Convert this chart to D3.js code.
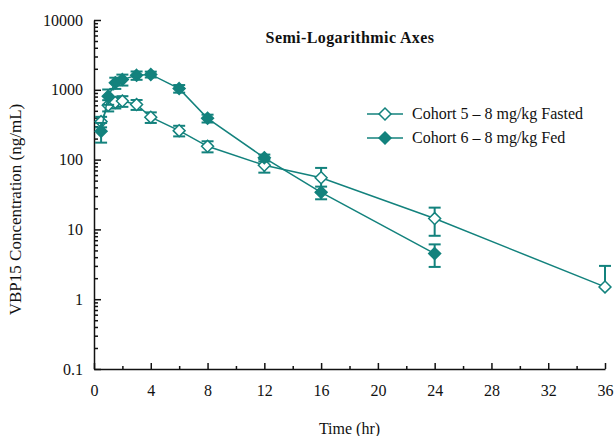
<!DOCTYPE html>
<html>
<head>
<meta charset="utf-8">
<script src="https://cdn.jsdelivr.net/npm/d3@7"></script>
<style>
  html, body { margin: 0; padding: 0; background: #fff; }
  svg { display: block; }
  text { font-family: "Liberation Serif", "Times New Roman", serif; fill: #111; }
</style>
</head>
<body>
<svg id="chart" width="615" height="436"></svg>
<script>
// Sampling times (hr)
const fastedTimes = [0.5, 1, 1.5, 2, 3, 4, 6, 8, 12, 16, 24, 36];
const fedTimes    = [0.5, 1, 1.5, 2, 3, 4, 6, 8, 12, 16, 24];

// Mean concentrations (ng/mL) and standard deviations
const fastedMean = [350, 600, 660, 690, 615, 405, 260, 155, 83, 55, 14.3, 1.5];
const fastedSD   = [60, 110, 120, 120, 100, 70, 45, 28, 18, 21, 6.2, 1.5];
const fedMean    = [255, 810, 1260, 1400, 1610, 1660, 1040, 390, 106, 34, 4.5];
const fedSD      = [80, 200, 230, 250, 220, 160, 130, 50, 12, 7, 1.6];

// Axis ticks
const xTicks = [0, 4, 8, 12, 16, 20, 24, 28, 32, 36];
const xMinorTicks = [2, 6, 10, 14, 18, 22, 26, 30, 34];
const yTicks = [0.1, 1, 10, 100, 1000, 10000];
const yTickLabels = ["0.1", "1", "10", "100", "1000", "10000"];

const seriesNames = ["Cohort 5 \u2013 8 mg/kg Fasted", "Cohort 6 \u2013 8 mg/kg Fed"];
const teal = "#13827d";

const svg = d3.select("#chart");

const x = d3.scaleLinear().domain([0, 36]).range([94, 605]);
const y = d3.scaleLog().domain([0.1, 10000]).range([369, 20]);

// minor log ticks: 2..9 within each decade
const yMinor = [];
for (let d = 0; d < yTicks.length - 1; d++) {
  for (let m = 2; m <= 9; m++) yMinor.push(yTicks[d] * m);
}

// Y axis (ticks point into the plot)
svg.append("g")
  .attr("transform", `translate(${x(0)},0)`)
  .call(d3.axisLeft(y).tickValues(yMinor).tickSize(-4).tickSizeOuter(0).tickFormat(""))
  .call(g => g.select(".domain").remove())
  .call(g => g.selectAll("line").attr("stroke", "#111").attr("stroke-width", 1.5));

svg.append("g")
  .attr("transform", `translate(${x(0)},0)`)
  .call(d3.axisLeft(y).tickValues(yTicks).tickSize(-7).tickSizeOuter(0).tickPadding(11)
    .tickFormat((d, i) => yTickLabels[i]))
  .call(g => g.select(".domain").attr("stroke", "#111").attr("stroke-width", 1.5))
  .call(g => g.selectAll("line").attr("stroke", "#111").attr("stroke-width", 1.5))
  .call(g => g.selectAll("text").attr("font-size", 16).attr("font-family", "Liberation Serif").attr("fill", "#111"));

// X axis
svg.append("g")
  .attr("transform", `translate(0,${y(0.1)})`)
  .call(d3.axisBottom(x).tickValues(xMinorTicks).tickSize(-3).tickSizeOuter(0).tickFormat(""))
  .call(g => g.select(".domain").remove())
  .call(g => g.selectAll("line").attr("stroke", "#111").attr("stroke-width", 1.5));

svg.append("g")
  .attr("transform", `translate(0,${y(0.1)})`)
  .call(d3.axisBottom(x).tickValues(xTicks).tickSize(-6).tickSizeOuter(0).tickPadding(16))
  .call(g => g.select(".domain").attr("stroke", "#111").attr("stroke-width", 1.5))
  .call(g => g.selectAll("line").attr("stroke", "#111").attr("stroke-width", 1.5))
  .call(g => g.selectAll("text").attr("font-size", 16).attr("font-family", "Liberation Serif").attr("fill", "#111"));

// Axis titles and chart title
svg.append("text")
  .attr("x", (x(0) + x(36)) / 2).attr("y", 434)
  .attr("text-anchor", "middle").attr("font-size", 16)
  .text("Time (hr)");

svg.append("text")
  .attr("transform", `translate(21,${(y(0.1) + y(10000)) / 2 + 15}) rotate(-90)`)
  .attr("text-anchor", "middle").attr("font-size", 17)
  .text("VBP15 Concentration (ng/mL)");

svg.append("text")
  .attr("x", 350).attr("y", 43)
  .attr("text-anchor", "middle").attr("font-size", 16).attr("font-weight", "bold")
  .attr("letter-spacing", 0.4)
  .text("Semi-Logarithmic Axes");

const diamond = d3.symbol().type(d3.symbolDiamond2).size(90);

function drawSeries(times, means, sds, filled) {
  const pts = times.map((t, i) => ({ t, m: means[i], s: sds[i] }));
  const g = svg.append("g");

  g.append("path")
    .datum(pts)
    .attr("fill", "none")
    .attr("stroke", teal)
    .attr("stroke-width", 1.5)
    .attr("d", d3.line().x(d => x(d.t)).y(d => y(d.m)));

  const eb = g.selectAll(".eb").data(pts).join("g");
  const cap = 6;
  eb.append("line")
    .attr("x1", d => x(d.t)).attr("x2", d => x(d.t))
    .attr("y1", d => y(d.m + d.s))
    .attr("y2", d => d.m - d.s > 0 ? y(d.m - d.s) : y(d.m))
    .attr("stroke", teal).attr("stroke-width", 2);
  eb.append("line")
    .attr("x1", d => x(d.t) - cap).attr("x2", d => x(d.t) + cap)
    .attr("y1", d => y(d.m + d.s)).attr("y2", d => y(d.m + d.s))
    .attr("stroke", teal).attr("stroke-width", 2);
  eb.filter(d => d.m - d.s > 0).append("line")
    .attr("x1", d => x(d.t) - cap).attr("x2", d => x(d.t) + cap)
    .attr("y1", d => y(d.m - d.s)).attr("y2", d => y(d.m - d.s))
    .attr("stroke", teal).attr("stroke-width", 2);

  g.selectAll(".mk").data(pts).join("path")
    .attr("transform", d => `translate(${x(d.t)},${y(d.m)})`)
    .attr("d", diamond)
    .attr("fill", filled ? teal : "#fff")
    .attr("stroke", teal)
    .attr("stroke-width", 1.5);
}

drawSeries(fastedTimes, fastedMean, fastedSD, false);
drawSeries(fedTimes, fedMean, fedSD, true);

// Legend
const legend = svg.append("g");
seriesNames.forEach((name, i) => {
  const ly = 114 + i * 24;
  legend.append("line")
    .attr("x1", 367).attr("x2", 403).attr("y1", ly).attr("y2", ly)
    .attr("stroke", teal).attr("stroke-width", 1.5);
  legend.append("path")
    .attr("transform", `translate(385,${ly})`)
    .attr("d", diamond)
    .attr("fill", i === 1 ? teal : "#fff")
    .attr("stroke", teal).attr("stroke-width", 1.5);
  legend.append("text")
    .attr("x", 412).attr("y", ly + 5)
    .attr("font-size", 16)
    .text(name);
});
</script>
</body>
</html>
